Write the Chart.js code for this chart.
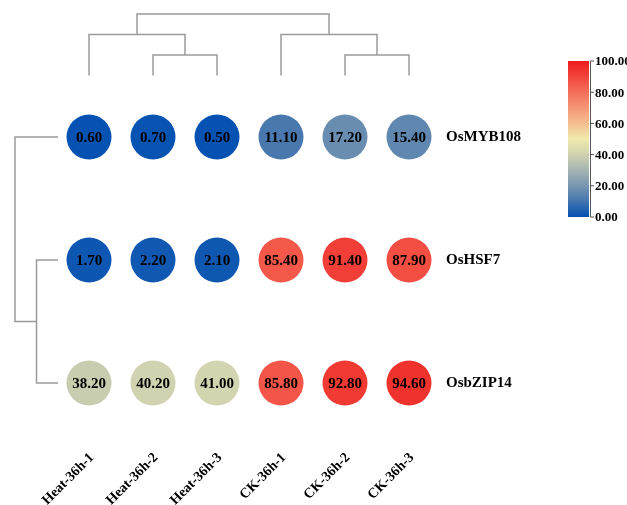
<!DOCTYPE html>
<html>
<head>
<meta charset="utf-8">
<script src="https://cdn.jsdelivr.net/npm/chart.js@4.4.0/dist/chart.umd.min.js"></script>
<style>
  html, body { margin: 0; padding: 0; background: #fff; }
  #wrap { width: 627px; height: 505px; position: relative; }
</style>
</head>
<body>
<div id="wrap"><canvas id="heat"></canvas></div>
<script>
// data
const samples = ['Heat-36h-1', 'Heat-36h-2', 'Heat-36h-3', 'CK-36h-1', 'CK-36h-2', 'CK-36h-3'];
const genes = ['OsMYB108', 'OsHSF7', 'OsbZIP14'];
const rowMYB108 = [0.60, 0.70, 0.50, 11.10, 17.20, 15.40];
const rowHSF7 = [1.70, 2.20, 2.10, 85.40, 91.40, 87.90];
const rowbZIP14 = [38.20, 40.20, 41.00, 85.80, 92.80, 94.60];
const values = [rowMYB108, rowHSF7, rowbZIP14];
const colorTicks = [0, 20, 40, 60, 80, 100];
// dendrograms: [left, right, height], leaves are indexes
const colTree = [[0, [1, 2, 1], 2], [3, [4, 5, 1], 2], 3];
const rowTree = [0, [1, 2, 1], 2];

const serif = "'Liberation Serif', 'Times New Roman', serif";
const stops = [
    [0, [2, 80, 178]], [11, [72, 120, 174]], [20, [120, 150, 177]],
    [40, [208, 210, 176]], [50, [240, 234, 172]], [60, [245, 190, 145]],
    [80, [245, 110, 90]], [100, [238, 28, 28]]
];

function colorFor(v) {
    for (let i = 1; i < stops.length; i++) {
        if (v <= stops[i][0]) {
            const a = stops[i - 1], b = stops[i];
            const t = (v - a[0]) / (b[0] - a[0]);
            const c = a[1].map((x, k) => Math.round(x + (b[1][k] - x) * t));
            return 'rgb(' + c.join(',') + ')';
        }
    }
    return 'rgb(' + stops[stops.length - 1][1].join(',') + ')';
}

const points = [];
const colors = [];
values.forEach((row, r) => row.forEach((v, c) => {
    points.push({ x: c, y: r, v: v });
    colors.push(colorFor(v));
}));

// draws a dendrogram node, returns [position, height]
function drawNode(ctx, node, leafPos, hPos, vertical) {
    if (typeof node === 'number') return [leafPos(node), 0];
    const a = drawNode(ctx, node[0], leafPos, hPos, vertical);
    const b = drawNode(ctx, node[1], leafPos, hPos, vertical);
    const h = hPos(node[2]);
    ctx.beginPath();
    if (vertical) {
        ctx.moveTo(a[0], hPos(a[1])); ctx.lineTo(a[0], h);
        ctx.lineTo(b[0], h); ctx.lineTo(b[0], hPos(b[1]));
    } else {
        ctx.moveTo(hPos(a[1]), a[0]); ctx.lineTo(h, a[0]);
        ctx.lineTo(h, b[0]); ctx.lineTo(hPos(b[1]), b[0]);
    }
    ctx.stroke();
    return [(a[0] + b[0]) / 2, node[2]];
}

const extras = {
    id: 'extras',
    afterDatasetsDraw(chart) {
        const ctx = chart.ctx;
        const meta = chart.getDatasetMeta(0);
        ctx.save();
        ctx.fillStyle = '#000';
        ctx.font = 'bold 15px ' + serif;
        ctx.textAlign = 'center';
        ctx.textBaseline = 'middle';
        meta.data.forEach((el, i) => {
            ctx.fillText(points[i].v.toFixed(2), el.x, el.y + 1);
        });
        ctx.restore();
    },
    afterDraw(chart) {
        const ctx = chart.ctx;
        const xs = chart.scales.x, ys = chart.scales.y, area = chart.chartArea;
        ctx.save();
        ctx.strokeStyle = '#9a9a9a';
        ctx.lineWidth = 1.5;
        drawNode(ctx, colTree, i => xs.getPixelForValue(i), h => area.top - h * 20.5, true);
        drawNode(ctx, rowTree, i => ys.getPixelForValue(i), h => area.left + 1 - h * 21.5, false);

        // colour bar
        const bx = 568, bw = 21, top = 61, bottom = 217;
        const g = ctx.createLinearGradient(0, bottom, 0, top);
        stops.forEach(s => g.addColorStop(s[0] / 100, colorFor(s[0])));
        ctx.fillStyle = g;
        ctx.fillRect(bx, top, bw, bottom - top);
        ctx.strokeStyle = '#555';
        ctx.lineWidth = 1;
        ctx.beginPath();
        ctx.moveTo(bx + bw + 1.5, top); ctx.lineTo(bx + bw + 1.5, bottom);
        ctx.stroke();
        ctx.fillStyle = '#000';
        ctx.font = 'bold 13px ' + serif;
        ctx.textAlign = 'left';
        ctx.textBaseline = 'middle';
        colorTicks.forEach(t => {
            const y = bottom - (bottom - top) * t / 100;
            ctx.beginPath();
            ctx.moveTo(bx + bw + 1.5, y); ctx.lineTo(bx + bw + 5, y);
            ctx.stroke();
            ctx.fillText(t.toFixed(2), bx + bw + 6, y + 1);
        });
        ctx.restore();
    }
};

new Chart(document.getElementById('heat'), {
    type: 'scatter',
    data: {
        datasets: [{
            data: points,
            backgroundColor: colors,
            borderColor: colors,
            borderWidth: 0,
            pointRadius: 22.5,
            pointHoverRadius: 22.5
        }]
    },
    options: {
        responsive: true,
        maintainAspectRatio: false,
        animation: false,
        events: [],
        layout: { padding: { left: 57, top: 75.5, right: 0, bottom: 0 } },
        plugins: { legend: { display: false }, tooltip: { enabled: false } },
        scales: {
            x: {
                type: 'linear', position: 'bottom', min: -0.5, max: 5.5,
                grid: { display: false, drawTicks: false }, border: { display: false },
                afterBuildTicks: s => { s.ticks = samples.map((_, i) => ({ value: i })); },
                afterFit: s => { s.height = 60.5; },
                ticks: {
                    autoSkip: false, minRotation: 45, maxRotation: 45, padding: 5, labelOffset: 3,
                    color: '#000', font: { family: serif, size: 14, weight: 'bold' },
                    callback: v => samples[v]
                }
            },
            y: {
                type: 'linear', position: 'right', min: -0.5, max: 2.5, reverse: true,
                grid: { display: false, drawTicks: false }, border: { display: false },
                afterBuildTicks: s => { s.ticks = genes.map((_, i) => ({ value: i })); },
                afterFit: s => { s.width = 186; },
                ticks: {
                    autoSkip: false, padding: 5,
                    color: '#000', font: { family: serif, size: 15, weight: 'bold' },
                    callback: v => genes[v]
                }
            }
        }
    },
    plugins: [extras]
});
</script>
</body>
</html>
